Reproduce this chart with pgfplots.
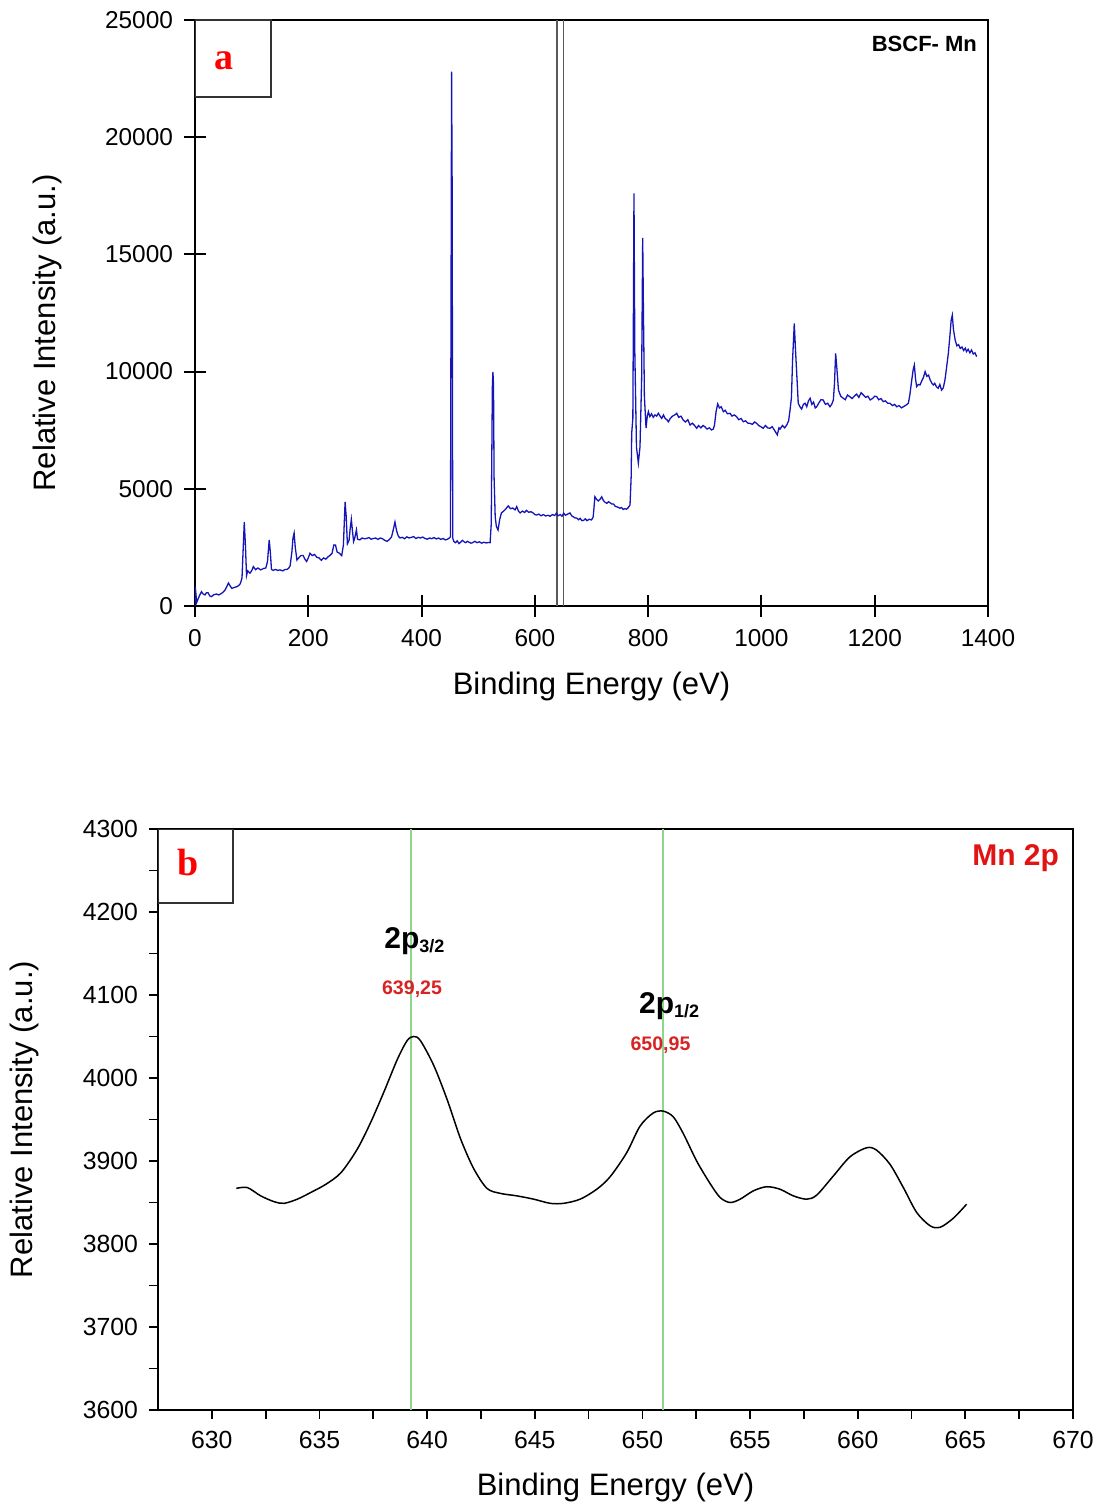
\documentclass[border=0pt]{standalone}
\usepackage{pgfplots}
\pgfplotsset{compat=1.18}
\usepackage{fontspec}
\setmainfont{Liberation Sans}
\newfontfamily\serifbf{Liberation Serif}
\definecolor{specblue}{RGB}{20,20,185}
\definecolor{peakgreen}{RGB}{140,215,140}
\definecolor{annred}{RGB}{215,35,35}
\definecolor{mnred}{RGB}{225,20,20}
\begin{document}
\begin{tikzpicture}
\useasboundingbox (0,0) rectangle (552pt,753pt);
% ---------------- panel a ----------------
\begin{axis}[
  at={(97.5pt,450pt)}, anchor=south west,
  scale only axis, width=396.5pt, height=293pt,
  xmin=0, xmax=1400, ymin=0, ymax=25000,
  xtick={0,200,...,1400}, ytick={0,5000,...,25000},
  xtick pos=bottom, ytick pos=left,
  tick align=center, major tick length=11pt,
  axis line style={line width=1pt},
  every tick/.style={black, line width=1pt},
  scaled ticks=false,
  /pgf/number format/assume math mode=true,
  /pgf/number format/set thousands separator={},
  ticklabel style={font=\fontsize{12.2}{14}\selectfont},
  xticklabel style={anchor=center, yshift=-10.5pt},
  yticklabel style={anchor=east, xshift=-2pt},
  xlabel={Binding Energy (eV)}, ylabel={Relative Intensity (a.u.)},
  label style={font=\fontsize{15.5}{18}\selectfont},
  xlabel style={at={(axis description cs:0.5,-0.1365)}, anchor=center},
  ylabel style={at={(axis description cs:-0.1866,0.466)}, anchor=center},
  clip=true,
]
\addplot[gray!70!black, line width=0.6pt] coordinates {(639.25,0) (639.25,25000)};
\addplot[gray!70!black, line width=0.6pt] coordinates {(650.95,0) (650.95,25000)};
\addplot[specblue, line width=0.65pt] coordinates {
(0,0) (0.5,810) (3,150) (8,450) (11.5,610) (14,520) (17.6,470) (20,560) (23,570) (26,430)
(29.4,400) (33,480) (38,510) (42,470) (47,540) (50,600) (53,680) (56,820) (59,980) (62,860)
(65,750) (69,790) (73.5,820) (77,870) (80,950) (83,1200) (85,2400) (87,3580) (89,2600) (91,1300)
(93,1500) (97,1400) (100,1500) (103,1680) (107,1550) (111,1620) (116,1540) (121,1600) (125,1620) (128,1900)
(131,2820) (133,2300) (135,1560) (138,1520) (142,1560) (146,1520) (150,1540) (155,1500) (159,1560) (162,1560)
(165,1600) (168,1720) (171,2300) (173,2900) (175,3110) (177,2500) (180,1960) (183,2050) (187,2150) (191,2150)
(194,2000) (197,1900) (200,2050) (203,2250) (207,2150) (211,2200) (215,2080) (219,2050) (223,1950) (227,2050)
(231,2000) (235,2100) (238,2150) (242,2250) (245,2600) (248,2600) (251,2300) (255,2250) (259,2150) (262,2600)
(265,4440) (267,3800) (269,2650) (272,2800) (274,3300) (276,3700) (278,3200) (280,2750) (282,2900) (285,3250)
(287,2850) (291,2820) (295,2900) (299,2870) (303,2880) (307,2920) (311,2850) (315,2880) (319,2900) (323,2840)
(327,2900) (331,2870) (335,2800) (339,2760) (343,2830) (347,2950) (350,3250) (353,3580) (356,3200) (359,2980)
(362,2900) (366,2930) (370,2870) (374,2950) (378,2900) (382,2930) (386,2960) (390,2880) (394,2930) (398,2900)
(402,2940) (406,2880) (410,2850) (414,2900) (418,2870) (422,2920) (426,2860) (430,2900) (434,2840) (438,2880)
(442,2820) (446,2850) (449,2900) (451,2950) (452,12800) (453,22800) (454,17800) (455,2900) (457,2750) (460,2700)
(463,2780) (466,2660) (469,2720) (472,2800) (475,2740) (478,2700) (481,2760) (484,2720) (487,2680) (490,2700)
(494,2760) (498,2700) (502,2740) (506,2680) (510,2720) (514,2690) (518,2710) (521,2700) (523,3500) (525,9360)
(526,9990) (527,9400) (528,5500) (530,3800) (532,3400) (535,3240) (538,3700) (541,3970) (545,4050) (549,4150)
(553,4270) (557,4150) (561,4180) (565,4100) (568,4240) (571,4050) (574,3970) (578,4050) (582,3990) (585,4080)
(589,4000) (593,4020) (597,3970) (600,3900) (603,3880) (607,3920) (611,3850) (615,3900) (619,3840) (623,3870)
(627,3830) (631,3900) (635,3860) (638,3960) (641,3850) (645,3900) (648,3830) (651,3960) (654,3870) (658,3920)
(662,3970) (665,3850) (668,3800) (671,3760) (674,3750) (677,3680) (680,3740) (683,3640) (686,3650) (689,3720)
(692,3640) (696,3700) (700,3670) (703,3800) (706,4660) (709,4550) (712,4480) (715,4550) (718,4660) (721,4500)
(724,4420) (727,4380) (730,4450) (733,4400) (736,4350) (739,4350) (742,4250) (745,4230) (748,4200) (750,4170)
(753,4200) (756,4120) (759,4150) (762,4130) (765,4200) (768,4310) (770,5500) (771,7380) (773,8000) (774,12630)
(775,17600) (776.5,10800) (779.4,6780) (782.7,6100) (785.6,6780) (788.5,9640) (790.4,15700) (791.6,12770) (793.4,8930) (796.3,7590)
(798.5,8100) (800.5,8290) (803,8080) (806,8200) (809,8050) (812,8150) (815,8100) (818,8220) (821,8100) (824,8000)
(827,8150) (830,8000) (833,7950) (835.7,7860) (839,8000) (843,8100) (847,8150) (850.5,8220) (854,8050) (858,8100)
(862,7930) (866,7850) (870,7950) (874,7720) (878,7800) (882,7700) (885.8,7580) (889,7700) (893,7600) (897,7700)
(900,7650) (904,7550) (908,7600) (912,7510) (915,7550) (917,7700) (920,8300) (922.8,8620) (926,8450) (929,8500)
(932.8,8290) (936,8350) (940,8200) (944.6,8220) (948,8100) (952,8150) (956,8080) (960,7950) (964,8000) (968,7860)
(972,7900) (976,7800) (980,7790) (984,7750) (988,7850) (991.7,7790) (995,7700) (999,7650) (1003,7580) (1007,7700)
(1011,7600) (1015,7580) (1019,7650) (1023,7500) (1028,7300) (1031,7600) (1033,7550) (1037,7700) (1041,7600) (1044.6,7720)
(1048,7900) (1050.5,8360) (1053,8900) (1055,10500) (1058,12060) (1060,11000) (1062,10070) (1065,8650) (1068,8500) (1071,8400)
(1074,8600) (1077,8650) (1080,8500) (1083,8750) (1086,8860) (1089,8600) (1092,8700) (1095,8450) (1097.6,8500) (1101,8650)
(1105,8800) (1109,8790) (1113,8600) (1117,8650) (1121,8500) (1124,8600) (1127,8790) (1129,9500) (1131,10780) (1133,10200)
(1136,9210) (1140,8950) (1144.6,8860) (1148,8800) (1152,9000) (1156,8930) (1160,8850) (1164,8950) (1168,9040) (1172,8900)
(1176,9100) (1180,9000) (1184,8900) (1188,8950) (1192,8790) (1196,8850) (1200,8950) (1203.6,8930) (1207,8800) (1211,8850)
(1215,8720) (1219,8750) (1223,8650) (1227,8650) (1231,8550) (1235,8600) (1239,8500) (1243,8550) (1247,8450) (1250.5,8500)
(1254,8550) (1257,8600) (1259.4,8650) (1262,9000) (1265,9570) (1268,10100) (1270,10280) (1272,9700) (1274,9360) (1277,9450)
(1280,9430) (1283,9600) (1286,9750) (1289,10000) (1292,9800) (1295,9850) (1298,9640) (1301,9500) (1303.5,9430) (1306,9500)
(1309,9350) (1312,9290) (1315,9450) (1318,9210) (1321,9300) (1324,9640) (1327,10200) (1330,10780) (1333,11600) (1335,12200)
(1337,12410) (1339,11800) (1342,11350) (1345,11100) (1348,11150) (1351,10990) (1354,11050) (1357,10900) (1360,11000) (1362,10850)
(1365,10950) (1368,10800) (1371,10920) (1374,10750) (1377,10800) (1380,10640)
};
\draw[black!80, line width=0.6pt] (rel axis cs:0,1) rectangle ++(38pt,-38.5pt);
\node[text=red, font=\serifbf\bfseries\fontsize{19}{20}\selectfont] at ([xshift=14.5pt,yshift=-20.5pt]rel axis cs:0,1) {a};
\node[anchor=east, font=\bfseries\fontsize{11}{13}\selectfont] at ([xshift=-2pt,yshift=-12pt]rel axis cs:1,1) {BSCF- Mn};
\end{axis}
% ---------------- panel b ----------------
\begin{axis}[
  at={(79pt,48pt)}, anchor=south west,
  scale only axis, width=457.5pt, height=290.5pt,
  xmin=627.5, xmax=670, ymin=3600, ymax=4300,
  xtick={630,635,...,670}, ytick={3600,3700,...,4300},
  minor x tick num=1, minor y tick num=1,
  xtick pos=bottom, ytick pos=left,
  tick align=outside, major tick length=4.5pt, minor tick length=4.5pt,
  axis line style={line width=1pt},
  every tick/.style={black, line width=0.9pt},
  scaled ticks=false,
  /pgf/number format/assume math mode=true,
  /pgf/number format/set thousands separator={},
  ticklabel style={font=\fontsize{12.4}{14}\selectfont},
  xticklabel style={anchor=center, yshift=-10.5pt},
  yticklabel style={anchor=east, xshift=-2pt},
  xlabel={Binding Energy (eV)}, ylabel={Relative Intensity (a.u.)},
  label style={font=\fontsize{15.5}{18}\selectfont},
  xlabel style={at={(axis description cs:0.5,-0.1325)}, anchor=center},
  ylabel style={at={(axis description cs:-0.1454,0.5)}, anchor=center},
]
\addplot[peakgreen, line width=0.9pt] coordinates {(639.25,3600) (639.25,4300)};
\addplot[peakgreen, line width=0.9pt] coordinates {(650.95,3600) (650.95,4300)};
\addplot[black, line width=0.75pt, smooth, tension=0.5] coordinates {
(631.14,3867) (631.65,3868) (632.27,3858) (632.89,3851) (633.35,3849) (633.97,3854) (634.59,3862)
(635.30,3872) (636.00,3886) (636.75,3914) (637.37,3946) (637.99,3983) (638.61,4022) (639.07,4045)
(639.38,4050) (639.69,4045) (640.31,4015) (640.93,3974) (641.55,3927) (642.16,3891) (642.78,3867)
(643.40,3861) (644.17,3858) (644.95,3854) (645.72,3849) (646.34,3849) (647.11,3854) (647.88,3866)
(648.50,3881) (649.27,3910) (649.89,3942) (650.51,3958) (650.98,3960) (651.44,3953) (651.90,3933)
(652.52,3900) (653.14,3873) (653.61,3856) (654.07,3850) (654.54,3854) (655.15,3864) (655.77,3869)
(656.39,3866) (657.01,3858) (657.63,3854) (658.10,3859) (658.87,3882) (659.64,3905) (660.42,3916)
(660.88,3913) (661.50,3896) (662.12,3868) (662.74,3838) (663.36,3822) (663.82,3820) (664.44,3831)
(665.06,3848)
};
\draw[black!80, line width=0.6pt] (rel axis cs:0,1) rectangle ++(37.5pt,-37pt);
\node[text=red, font=\serifbf\bfseries\fontsize{19}{20}\selectfont] at ([xshift=15pt,yshift=-16.5pt]rel axis cs:0,1) {b};
\node[anchor=east, text=mnred, font=\bfseries\fontsize{15}{17}\selectfont] at ([xshift=-3.5pt,yshift=-14.5pt]rel axis cs:1,1) {Mn 2p};
\node[anchor=base west, inner sep=0pt, font=\bfseries\fontsize{15}{17}\selectfont] at (axis cs:638.0,4156) {2p\textsubscript{\fontsize{9}{10}\selectfont 3/2}};
\node[text=annred, font=\bfseries\fontsize{9.8}{11}\selectfont] at (axis cs:639.3,4107) {639,25};
\node[anchor=base west, inner sep=0pt, font=\bfseries\fontsize{15}{17}\selectfont] at (axis cs:649.83,4078) {2p\textsubscript{\fontsize{9}{10}\selectfont 1/2}};
\node[text=annred, font=\bfseries\fontsize{9.8}{11}\selectfont] at (axis cs:650.84,4039) {650,95};
\end{axis}
\end{tikzpicture}
\end{document}
